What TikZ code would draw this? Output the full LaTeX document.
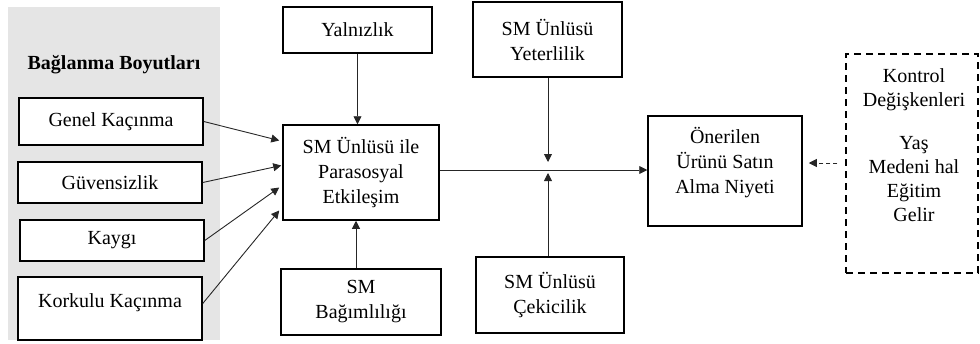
\documentclass[tikz,border=0pt]{standalone}
\usepackage{fontspec}
\setmainfont{Liberation Serif}
\usetikzlibrary{arrows.meta}

\begin{document}
\begin{tikzpicture}[x=1pt, y=-1pt,
    box/.style = {draw, fill=white, line width=1.5pt, align=center, inner sep=0pt},
    txt/.style = {align=center, inner sep=0pt},
    arr/.style = {-{Triangle[length=8pt, width=8pt]}, line width=0.9pt, draw=black!85},
    font = \fontsize{20}{25}\selectfont]
    \useasboundingbox (0,0) rectangle (980,343);
    \fill[black!10] (8,7) rectangle (220,340);
    \node[font=\fontsize{20}{25}\selectfont\bfseries] (title) at (114,65) {Bağlanma Boyutları};

    \node[box, minimum width=184pt, minimum height=47pt] (genel) at (111,121.5) {Genel Kaçınma};
    \node[box, minimum width=184pt, minimum height=41pt] (guven) at (110,182.5) {Güvensizlik};
    \node[box, minimum width=184pt, minimum height=41pt] (kaygi) at (112,240.5) {Kaygı};
    \node[box, minimum width=184pt, minimum height=63pt, text height=14pt, text depth=17pt] (korkulu) at (110,308.5) {Korkulu Kaçınma};

    \node[box, minimum width=149pt, minimum height=46pt] (yalniz) at (357.5,30) {Yalnızlık};
    \node[box, minimum width=156pt, minimum height=95pt] (psi) at (361,172.5) {SM Ünlüsü ile\\Parasosyal\\Etkileşim};
    \node[box, minimum width=160pt, minimum height=66pt] (bagim) at (361,302) {SM\\Bağımlılığı};

    \node[box, minimum width=149pt, minimum height=75pt] (yeter) at (547.5,39.5) {SM Ünlüsü\\Yeterlilik};
    \node[box, minimum width=148pt, minimum height=76pt] (cekici) at (550,295) {SM Ünlüsü\\Çekicilik};

    \node[box, minimum width=154pt, minimum height=110pt] (niyet) at (725,171) {};
    \node[txt] (niyettext) at (725,163) {Önerilen\\Ürünü Satın\\Alma Niyeti};

    \node[draw, line width=1.5pt, dash pattern=on 7pt off 5pt, minimum width=132pt, minimum height=219pt] (kontrol) at (912,163.5) {};
    \node[txt, font=\fontsize{20}{24}\selectfont] (kontroltext) at (914,145) {Kontrol\\Değişkenleri\\[19pt]Yaş\\Medeni hal\\Eğitim\\Gelir};

    \draw[arr] (genel.east) -- ([yshift=32pt, xshift=-3pt]psi.west);
    \draw[arr] (guven.east) -- ([yshift=7pt, xshift=-1pt]psi.west);
    \draw[arr] (kaygi.east) -- ([yshift=-15pt, xshift=-3pt]psi.west);
    \draw[arr] ([yshift=5pt]korkulu.east) -- ([yshift=-38pt, xshift=-3pt]psi.west);

    \draw[arr] (yalniz.south) -- (yalniz.south |- psi.north);
    \draw[arr] ([xshift=-5pt]bagim.north) -- ([xshift=-5pt]psi.south);

    \coordinate (mid) at (548,170);
    \draw[arr] (psi.east |- mid) -- (niyet.west |- mid);
    \draw[arr] (yeter.south -| mid) -- ([yshift=8pt]mid);
    \draw[arr] (cekici.north -| mid) -- ([yshift=-3pt]mid);

    \draw[arr, dash pattern=on 4pt off 3pt, shorten <=8pt, shorten >=6pt] (kontrol.west |- 0,163) -- (niyet.east |- 0,163);
\end{tikzpicture}
\end{document}
